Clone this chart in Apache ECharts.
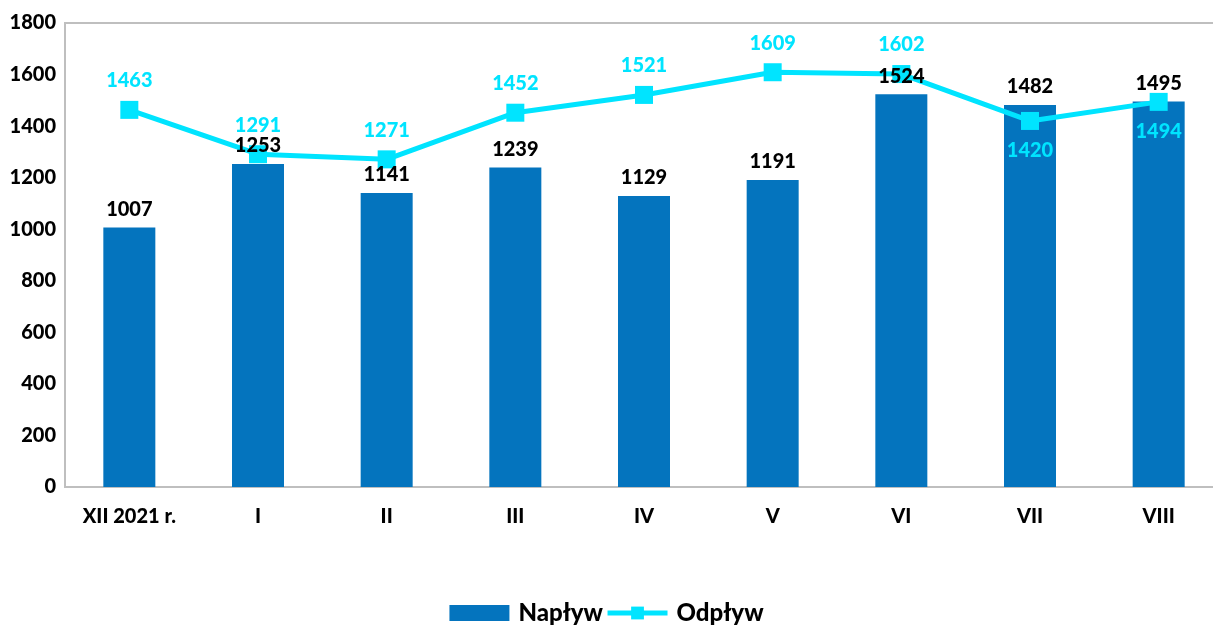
<!DOCTYPE html>
<html>
<head>
<meta charset="utf-8">
<script src="https://cdn.jsdelivr.net/npm/echarts@6/dist/echarts.min.js"></script>
<style>html,body{margin:0;padding:0;background:#fff}#c{width:1213px;height:625px}</style>
</head>
<body>
<div id="c"></div>
<script>
const categories = ['XII 2021 r.', 'I', 'II', 'III', 'IV', 'V', 'VI', 'VII', 'VIII'];
const naplyw = [1007, 1253, 1141, 1239, 1129, 1191, 1524, 1482, 1495];
const odplyw = [1463, 1291, 1271, 1452, 1521, 1609, 1602, 1420, 1494];
const odplywLabelBelow = [false, false, false, false, false, false, false, true, true];
const yTicks = { min: 0, max: 1800, interval: 200 };

const FONT = 'Lato, "Open Sans", sans-serif';
const BAR = '#0474BE';
const CYAN = '#00E4FF';

const chart = echarts.init(document.getElementById('c'), null, { renderer: 'canvas' });
chart.setOption({
  animation: false,
  textStyle: { fontFamily: FONT },
  grid: { left: 65, top: 23, width: 1158, height: 464, outerBoundsMode: 'none', containLabel: false, show: true, borderColor: '#BFBFBF', borderWidth: 2, backgroundColor: 'transparent' },
  legend: {
    bottom: -5, left: 'center', itemGap: 2, itemWidth: 60, itemHeight: 16,
    textStyle: { fontFamily: FONT, fontWeight: 900, fontSize: 24, color: '#000', padding: [0, 0, 0, 4] },
    data: [
      { name: 'Napływ', icon: 'rect' },
      { name: 'Odpływ', lineStyle: { width: 5, color: CYAN }, itemStyle: { color: CYAN } }
    ]
  },
  xAxis: {
    type: 'category', data: categories,
    axisLine: { lineStyle: { color: '#BFBFBF', width: 2 } },
    axisTick: { show: false },
    axisLabel: { color: '#000', fontWeight: 900, fontSize: 20, fontFamily: FONT, margin: 20 }
  },
  yAxis: {
    type: 'value', min: yTicks.min, max: yTicks.max, interval: yTicks.interval,
    axisLine: { show: true, lineStyle: { color: '#BFBFBF', width: 2 } },
    splitLine: { show: false },
    axisTick: { show: false },
    axisLabel: { color: '#000', fontWeight: 900, fontSize: 20, fontFamily: FONT, margin: 9, formatter: v => String(v) }
  },
  series: [
    {
      name: 'Napływ', type: 'bar', data: naplyw, barWidth: 52, barGap: '-100%',
      itemStyle: { color: BAR },
      label: { show: false },
      z: 2
    },
    {
      name: 'Odpływ', type: 'line', data: odplyw.map((v, i) => ({
        value: v,
        label: { position: odplywLabelBelow[i] ? 'bottom' : 'top', distance: odplywLabelBelow[i] ? 11 : 10 }
      })),
      symbol: 'rect', symbolSize: 18,
      lineStyle: { color: CYAN, width: 5 },
      itemStyle: { color: CYAN },
      label: { show: true, color: CYAN, fontWeight: 900, fontSize: 20, fontFamily: FONT },
      z: 3
    },
    {
      name: 'NapływLabels', type: 'bar', data: naplyw, barWidth: 52, barGap: '-100%',
      itemStyle: { color: 'rgba(0,0,0,0)' },
      silent: true,
      label: { show: true, position: 'top', distance: 8, color: '#000', fontWeight: 900, fontSize: 20, fontFamily: FONT },
      z: 10
    }
  ]
});
</script>
</body>
</html>
